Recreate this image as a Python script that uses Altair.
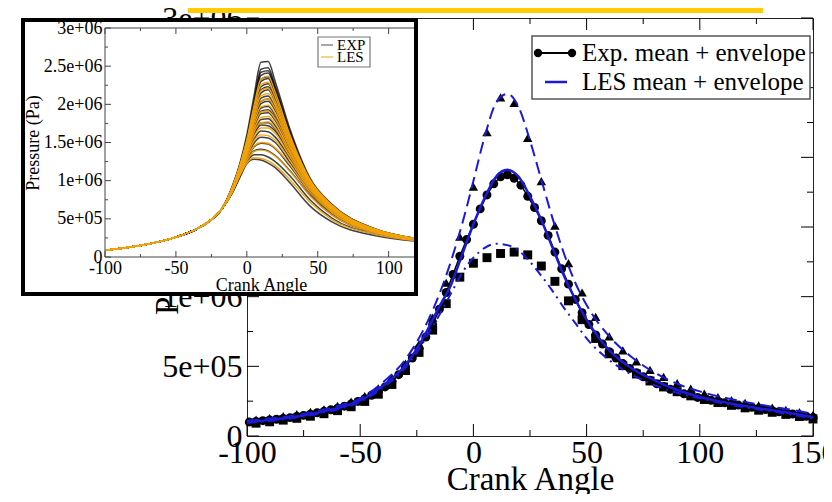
import json
import altair as alt
import pandas as pd

# ---------------- data (pressure in MPa for main, bar for inset) ----------------
exp_mean_angle = list(range(-99, 151, 3))
exp_mean_mpa = [0.100, 0.105, 0.110, 0.115, 0.120, 0.126, 0.132, 0.140, 0.148, 0.157,
                0.167, 0.177, 0.188, 0.200, 0.214, 0.230, 0.248, 0.268, 0.292, 0.320,
                0.352, 0.390, 0.440, 0.500, 0.560, 0.630, 0.710, 0.800, 0.910, 1.030,
                1.160, 1.290, 1.410,
                1.520, 1.630, 1.730, 1.810, 1.860, 1.875, 1.850, 1.800, 1.720, 1.640,
                1.545, 1.440, 1.320, 1.200, 1.090, 0.980, 0.885, 0.800, 0.725, 0.660,
                0.605, 0.560, 0.520, 0.485, 0.455, 0.425, 0.400, 0.375, 0.355, 0.335,
                0.318, 0.303, 0.290, 0.277, 0.266, 0.256, 0.247, 0.238, 0.230, 0.222,
                0.214, 0.206, 0.198, 0.190, 0.182, 0.174, 0.166, 0.158, 0.150, 0.142,
                0.133]

env_angle = list(range(-96, 151, 6))
exp_max_mpa = [0.118, 0.128, 0.142, 0.157, 0.173, 0.192, 0.216, 0.246, 0.287, 0.342,
               0.418, 0.520, 0.660, 0.850, 1.100, 1.430, 1.790, 2.180, 2.430, 2.390,
               2.140, 1.830, 1.510, 1.240, 1.030, 0.855, 0.715, 0.615, 0.535, 0.475,
               0.425, 0.380, 0.340, 0.305, 0.280, 0.258, 0.238, 0.220, 0.203, 0.187,
               0.172, 0.152]
exp_min_mpa = [0.092, 0.102, 0.114, 0.127, 0.142, 0.160, 0.182, 0.210, 0.248, 0.300,
               0.370, 0.470, 0.600, 0.760, 0.950, 1.140, 1.240, 1.280, 1.310, 1.320,
               1.300, 1.220, 1.110, 0.970, 0.835, 0.700, 0.590, 0.505, 0.445, 0.395,
               0.352, 0.318, 0.288, 0.262, 0.240, 0.220, 0.202, 0.185, 0.170, 0.155,
               0.140, 0.122]

les_angle = [-100, -90, -80, -70, -60, -50, -40, -30, -25, -20, -15, -10, -5, 0, 5, 10,
             15, 20, 25, 30, 35, 40, 45, 50, 60, 70, 80, 90, 100, 110, 120, 130, 140, 150]
les_mean_mpa = [0.100, 0.115, 0.135, 0.163, 0.200, 0.255, 0.360, 0.510, 0.625, 0.770,
                0.930, 1.080, 1.300, 1.520, 1.710, 1.860, 1.910, 1.860, 1.720, 1.550,
                1.350, 1.150, 0.980, 0.835, 0.615, 0.485, 0.400, 0.330, 0.280, 0.245,
                0.215, 0.190, 0.165, 0.135]
les_max_mpa = [0.110, 0.125, 0.145, 0.175, 0.215, 0.270, 0.385, 0.550, 0.675, 0.830,
               1.020, 1.250, 1.520, 1.830, 2.150, 2.390, 2.455, 2.360, 2.120, 1.840,
               1.560, 1.310, 1.100, 0.940, 0.715, 0.565, 0.455, 0.375, 0.320, 0.278,
               0.245, 0.215, 0.190, 0.158]
les_min_mpa = [0.095, 0.108, 0.128, 0.155, 0.190, 0.245, 0.345, 0.490, 0.600, 0.730,
               0.870, 1.020, 1.170, 1.280, 1.350, 1.380, 1.370, 1.330, 1.250, 1.150,
               1.040, 0.920, 0.810, 0.700, 0.545, 0.440, 0.365, 0.310, 0.270, 0.235,
               0.205, 0.180, 0.155, 0.125]

# inset: individual cycles (bar)
inset_prefix_angle = [-100, -75, -50, -35, -25, -18]
inset_prefix_bar = [0.9, 1.5, 2.6, 3.7, 4.9, 6.2]
inset_angle = [-10, -5, 0, 5, 10, 15, 20, 30, 45, 60, 90, 120]
inset_exp_bar = [
    [9.4, 12.2, 16.0, 21.0, 25.5, 25.6, 23.0, 17.0, 10.2, 6.9, 3.7, 2.40],
    [9.3, 12.0, 15.6, 20.3, 24.6, 24.8, 22.4, 16.6, 10.0, 6.8, 3.7, 2.40],
    [9.25, 11.95, 15.45, 20.0, 24.2, 24.4, 22.1, 16.5, 9.95, 6.75, 3.65, 2.40],
    [9.2, 11.9, 15.3, 19.8, 23.8, 24.1, 21.9, 16.3, 9.9, 6.7, 3.6, 2.40],
    [9.15, 11.8, 15.1, 19.5, 23.3, 23.6, 21.6, 16.1, 9.8, 6.6, 3.6, 2.35],
    [9.1, 11.8, 15.0, 19.3, 23.0, 23.4, 21.4, 16.0, 9.8, 6.6, 3.6, 2.35],
    [9.1, 11.7, 14.8, 18.9, 22.3, 22.7, 20.9, 15.7, 9.7, 6.6, 3.6, 2.35],
    [9.05, 11.65, 14.7, 18.6, 21.9, 22.3, 20.6, 15.5, 9.65, 6.5, 3.55, 2.35],
    [9.0, 11.6, 14.6, 18.4, 21.5, 21.9, 20.3, 15.4, 9.6, 6.5, 3.5, 2.35],
    [9.0, 11.5, 14.4, 18.0, 20.8, 21.1, 19.7, 15.1, 9.5, 6.4, 3.5, 2.30],
    [8.95, 11.45, 14.3, 17.8, 20.4, 20.7, 19.4, 14.9, 9.45, 6.4, 3.5, 2.30],
    [8.9, 11.4, 14.2, 17.6, 20.1, 20.4, 19.2, 14.8, 9.4, 6.4, 3.5, 2.30],
    [8.9, 11.3, 14.0, 17.2, 19.5, 19.7, 18.6, 14.5, 9.3, 6.3, 3.5, 2.30],
    [8.85, 11.25, 13.9, 17.0, 19.1, 19.3, 18.2, 14.3, 9.25, 6.25, 3.45, 2.30],
    [8.8, 11.2, 13.8, 16.8, 18.8, 18.9, 17.9, 14.2, 9.2, 6.2, 3.4, 2.30],
    [8.8, 11.1, 13.6, 16.4, 18.0, 18.1, 17.2, 13.8, 9.0, 6.1, 3.4, 2.30],
    [8.75, 11.05, 13.5, 16.1, 17.6, 17.6, 16.8, 13.6, 8.95, 6.05, 3.4, 2.25],
    [8.7, 11.0, 13.4, 15.9, 17.3, 17.2, 16.5, 13.4, 8.9, 6.0, 3.4, 2.25],
    [8.7, 10.9, 13.2, 15.4, 16.5, 16.4, 15.7, 13.0, 8.7, 5.9, 3.3, 2.25],
    [8.6, 10.8, 13.0, 14.9, 15.7, 15.6, 15.0, 12.5, 8.5, 5.8, 3.3, 2.25],
    [8.6, 10.7, 12.8, 14.4, 14.9, 14.8, 14.2, 12.0, 8.3, 5.7, 3.3, 2.20],
    [8.6, 10.6, 12.6, 13.9, 14.1, 13.9, 13.3, 11.4, 8.0, 5.5, 3.2, 2.20],
    [8.5, 10.5, 12.4, 13.4, 13.4, 13.1, 12.5, 10.7, 7.4, 5.1, 3.0, 2.15],
    [8.5, 10.4, 12.2, 12.8, 12.7, 12.3, 11.7, 9.8, 6.6, 4.6, 2.8, 2.05],
]
inset_les_bar = [
    [9.3, 12.0, 15.4, 19.8, 23.3, 23.7, 21.6, 16.2, 10.0, 6.8, 3.7, 2.40],
    [9.2, 11.9, 15.1, 19.3, 22.6, 22.9, 21.0, 15.9, 9.9, 6.7, 3.6, 2.40],
    [9.1, 11.8, 14.9, 18.8, 21.8, 22.1, 20.4, 15.6, 9.8, 6.6, 3.6, 2.35],
    [9.1, 11.7, 14.7, 18.4, 21.1, 21.4, 19.9, 15.3, 9.7, 6.6, 3.6, 2.35],
    [9.0, 11.6, 14.5, 18.0, 20.4, 20.7, 19.4, 15.0, 9.6, 6.5, 3.5, 2.35],
    [9.0, 11.5, 14.3, 17.6, 19.7, 19.9, 18.8, 14.7, 9.5, 6.4, 3.5, 2.30],
    [8.9, 11.4, 14.1, 17.1, 19.0, 19.1, 18.1, 14.4, 9.4, 6.4, 3.5, 2.30],
    [8.9, 11.3, 13.9, 16.7, 18.3, 18.4, 17.5, 14.0, 9.2, 6.3, 3.5, 2.30],
    [8.8, 11.2, 13.7, 16.3, 17.6, 17.7, 16.9, 13.7, 9.1, 6.2, 3.4, 2.30],
    [8.8, 11.1, 13.5, 15.8, 16.9, 16.9, 16.2, 13.3, 8.9, 6.1, 3.4, 2.25],
    [8.7, 11.0, 13.2, 15.2, 16.0, 15.9, 15.3, 12.8, 8.7, 5.9, 3.3, 2.25],
    [8.7, 10.9, 12.9, 14.5, 15.0, 14.9, 14.3, 12.2, 8.4, 5.8, 3.3, 2.20],
    [8.6, 10.8, 12.6, 13.8, 14.0, 13.8, 13.2, 11.3, 7.9, 5.5, 3.2, 2.20],
    [8.6, 10.6, 12.3, 13.0, 12.9, 12.6, 12.0, 10.2, 7.1, 4.9, 3.0, 2.10],
]

x_ticks = [-100, -50, 0, 50, 100, 150]
x_tick_labels = ["-100", "-50", "0", "50", "100", "150"]
x_minor = [-75, -25, 25, 75, 125]
y_ticks = [0, 500000, 1000000, 1500000, 2000000, 2500000, 3000000]
y_tick_labels = ["0", "5e+05", "1e+06", "1.5e+06", "2e+06", "2.5e+06", "3e+06"]
y_minor = [250000, 750000, 1250000, 1750000, 2250000, 2750000]
inset_x_ticks = [-100, -50, 0, 50, 100]
inset_x_tick_labels = ["-100", "-50", "0", "50", "100"]
inset_x_minor = [-75, -25, 25, 75]
legend_labels = ["Exp. mean + envelope", "LES mean + envelope"]
inset_legend_labels = ["EXP", "LES"]

# ---------------- layout ----------------
W, H = 566, 418
SERIF = "Liberation Serif"
BLUE = "#1a1ad8"
ORANGE = "#f2a20c"

mx = alt.Scale(domain=[-100, 150], nice=False, zero=False)
my = alt.Scale(domain=[0, 3000000], nice=False, zero=False)
ix = alt.Scale(domain=[-100, 120], range=[-142, 170], nice=False, zero=False)
iy = alt.Scale(domain=[0, 3000000], range=[239, 10], nice=False, zero=False)


def lab_expr(ticks, labels):
    return f"{json.dumps(labels)}[indexof({json.dumps(ticks)}, datum.value)]"


x_axis = alt.Axis(values=x_ticks, labelExpr=lab_expr(x_ticks, x_tick_labels), title="Crank Angle",
                  orient="bottom", ticks=False, tickSize=0, domain=False, grid=False,
                  labelFont=SERIF, labelFontSize=32, labelColor="black", labelPadding=1,
                  labelFlush=False, labelOverlap=False, titleFont=SERIF, titleFontSize=33,
                  titleFontWeight="normal", titleColor="black", titleBaseline="alphabetic",
                  titleY=53)
y_axis = alt.Axis(values=y_ticks, labelExpr=lab_expr(y_ticks, y_tick_labels), title="Pressure (Pa)",
                  orient="left", ticks=False, tickSize=0, domain=False, grid=False,
                  labelFont=SERIF, labelFontSize=32, labelColor="black", labelPadding=5,
                  labelFlush=False, labelOverlap=False, titleFont=SERIF, titleFontSize=33,
                  titleFontWeight="normal", titleColor="black", titleX=-80, titleY=H / 2,
                  titleBaseline="middle")
ix_axis = alt.Axis(values=inset_x_ticks, labelExpr=lab_expr(inset_x_ticks, inset_x_tick_labels),
                   title="Crank Angle", orient="bottom", offset=-179, ticks=False, tickSize=0,
                   domain=False, grid=False, labelFont=SERIF, labelFontSize=18, labelColor="black",
                   labelPadding=2, labelFlush=False, labelOverlap=False, titleFont=SERIF,
                   titleFontSize=18, titleFontWeight="normal", titleColor="black",
                   titleBaseline="alphabetic", titleY=33, zindex=1)
iy_axis = alt.Axis(values=y_ticks, labelExpr=lab_expr(y_ticks, y_tick_labels), title="Pressure (Pa)",
                   orient="left", offset=142, ticks=False, tickSize=0, domain=False, grid=False,
                   labelFont=SERIF, labelFontSize=18, labelColor="black", labelPadding=3,
                   labelFlush=False, labelOverlap=False, titleFont=SERIF, titleFontSize=18,
                   titleFontWeight="normal", titleColor="black", titleX=-72, titleY=124.5,
                   titleBaseline="middle", zindex=1)

one = pd.DataFrame({"k": [0]})

# ---------------- main panel ----------------
df_mean = pd.DataFrame({"angle": exp_mean_angle, "p": [v * 1e6 for v in exp_mean_mpa]})
df_env = pd.DataFrame({"angle": env_angle,
                       "pmax": [v * 1e6 for v in exp_max_mpa],
                       "pmin": [v * 1e6 for v in exp_min_mpa]})
df_les = pd.DataFrame({"angle": les_angle,
                       "mean": [v * 1e6 for v in les_mean_mpa],
                       "hi": [v * 1e6 for v in les_max_mpa],
                       "lo": [v * 1e6 for v in les_min_mpa]})

MX = alt.X("angle:Q", scale=mx, axis=None)

mean_line = alt.Chart(df_mean).mark_line(color="black", strokeWidth=1.5).encode(
    x=alt.X("angle:Q", scale=mx, axis=x_axis), y=alt.Y("p:Q", scale=my, axis=y_axis))
mean_pts = alt.Chart(df_mean).mark_point(shape="circle", filled=True, color="black", size=80,
                                         opacity=1).encode(
    x=MX, y=alt.Y("p:Q", scale=my, axis=None))
max_pts = alt.Chart(df_env).mark_point(shape="triangle-up", filled=True, color="black", size=90,
                                       opacity=1).encode(
    x=MX, y=alt.Y("pmax:Q", scale=my, axis=None))
min_pts = alt.Chart(df_env).mark_point(shape="square", filled=True, color="black", size=80,
                                       opacity=1).encode(
    x=MX, y=alt.Y("pmin:Q", scale=my, axis=None))
les_mean = alt.Chart(df_les).mark_line(color=BLUE, strokeWidth=2.5, interpolate="monotone").encode(
    x=MX, y=alt.Y("mean:Q", scale=my, axis=None))
les_hi = alt.Chart(df_les).mark_line(color=BLUE, strokeWidth=2, strokeDash=[12, 6],
                                     interpolate="monotone").encode(
    x=MX, y=alt.Y("hi:Q", scale=my, axis=None))
les_lo = alt.Chart(df_les).mark_line(color=BLUE, strokeWidth=2, strokeDash=[9, 5, 2, 5],
                                     interpolate="monotone").encode(
    x=MX, y=alt.Y("lo:Q", scale=my, axis=None))


def xticks(vals, scale, y0, y1, color="black"):
    return alt.Chart(pd.DataFrame({"v": vals})).mark_rule(color=color, strokeWidth=1).encode(
        x=alt.X("v:Q", scale=scale, axis=None), y=alt.value(y0), y2=alt.value(y1))


def yticks(vals, scale, x0, x1, color="black"):
    return alt.Chart(pd.DataFrame({"v": vals})).mark_rule(color=color, strokeWidth=1).encode(
        y=alt.Y("v:Q", scale=scale, axis=None), x=alt.value(x0), x2=alt.value(x1))


main_ticks = [
    xticks(x_ticks, mx, H, H - 12), xticks(x_minor, mx, H, H - 6),
    xticks(x_ticks, mx, 0, 12), xticks(x_minor, mx, 0, 6),
    yticks(y_ticks, my, 0, 12), yticks(y_minor, my, 0, 6),
    yticks(y_ticks, my, W, W - 12), yticks(y_minor, my, W, W - 6),
]

leg_box = alt.Chart(one).mark_rect(color="white", stroke="#555", strokeWidth=1.5).encode(
    x=alt.value(285), x2=alt.value(563), y=alt.value(18), y2=alt.value(81))
leg_l1 = alt.Chart(one).mark_rule(color="black", strokeWidth=2).encode(
    x=alt.value(291), x2=alt.value(325), y=alt.value(35))
leg_c1 = alt.Chart(one).mark_point(shape="circle", filled=True, color="black", size=70, opacity=1).encode(
    x=alt.value(291), y=alt.value(35))
leg_c2 = alt.Chart(one).mark_point(shape="circle", filled=True, color="black", size=70, opacity=1).encode(
    x=alt.value(325), y=alt.value(35))
leg_l2 = alt.Chart(one).mark_rule(color=BLUE, strokeWidth=2.5).encode(
    x=alt.value(298), x2=alt.value(320), y=alt.value(64))
leg_t1 = alt.Chart(pd.DataFrame({"t": [legend_labels[0]]})).mark_text(
    align="left", baseline="middle", font=SERIF, fontSize=25, color="black").encode(
    x=alt.value(335), y=alt.value(35), text="t:N")
leg_t2 = alt.Chart(pd.DataFrame({"t": [legend_labels[1]]})).mark_text(
    align="left", baseline="middle", font=SERIF, fontSize=25, color="black").encode(
    x=alt.value(335), y=alt.value(64), text="t:N")

yellow = alt.Chart(one).mark_rect(color="#ffcc00").encode(
    x=alt.value(-59), x2=alt.value(516), y=alt.value(-10), y2=alt.value(-5))

main_layers = [mean_line, mean_pts, max_pts, min_pts, les_lo, les_hi, les_mean, *main_ticks,
               leg_box, leg_l1, leg_c1, leg_c2, leg_l2, leg_t1, leg_t2, yellow]

# ---------------- inset ----------------
rows = []
for group, curves in (("EXP", inset_exp_bar), ("LES", inset_les_bar)):
    for i, c in enumerate(curves):
        for a, v in zip(inset_prefix_angle + inset_angle, inset_prefix_bar + c):
            rows.append({"grp": group, "cyc": f"{group}{i}", "angle": a, "p": v * 1e5})
df_in = pd.DataFrame(rows)

IX = alt.X("angle:Q", scale=ix, axis=None)

in_bg = alt.Chart(one).mark_rect(color="white").encode(
    x=alt.value(-226), x2=alt.value(171), y=alt.value(0), y2=alt.value(278))
in_exp = alt.Chart(df_in[df_in.grp == "EXP"]).mark_line(
    color="black", strokeWidth=1.5, opacity=0.75, interpolate="monotone").encode(
    x=alt.X("angle:Q", scale=ix, axis=ix_axis), y=alt.Y("p:Q", scale=iy, axis=iy_axis),
    detail="cyc:N")
in_les = alt.Chart(df_in[df_in.grp == "LES"]).mark_line(
    color=ORANGE, strokeWidth=1.4, opacity=0.95, interpolate="monotone").encode(
    x=IX, y=alt.Y("p:Q", scale=iy, axis=None), detail="cyc:N")
in_frame = alt.Chart(one).mark_rect(fillOpacity=0, stroke="#444", strokeWidth=1).encode(
    x=alt.value(-142), x2=alt.value(170), y=alt.value(10), y2=alt.value(239))
in_ticks = [
    xticks(inset_x_ticks, ix, 239, 233, "#444"), xticks(inset_x_minor, ix, 239, 236, "#444"),
    xticks(inset_x_ticks, ix, 10, 16, "#444"), xticks(inset_x_minor, ix, 10, 13, "#444"),
    yticks(y_ticks, iy, -142, -136, "#444"), yticks(y_minor, iy, -142, -139, "#444"),
]
in_leg_box = alt.Chart(one).mark_rect(color="white", stroke="#777", strokeWidth=1.2).encode(
    x=alt.value(71), x2=alt.value(123), y=alt.value(19), y2=alt.value(49))
in_leg_l1 = alt.Chart(one).mark_rule(color="#888", strokeWidth=1.5).encode(
    x=alt.value(74), x2=alt.value(86), y=alt.value(27))
in_leg_l2 = alt.Chart(one).mark_rule(color="#f3c45a", strokeWidth=1.5).encode(
    x=alt.value(74), x2=alt.value(86), y=alt.value(39))
in_leg_t1 = alt.Chart(pd.DataFrame({"t": [inset_legend_labels[0]]})).mark_text(
    align="left", baseline="middle", font=SERIF, fontSize=15, color="black").encode(
    x=alt.value(90), y=alt.value(27), text="t:N")
in_leg_t2 = alt.Chart(pd.DataFrame({"t": [inset_legend_labels[1]]})).mark_text(
    align="left", baseline="middle", font=SERIF, fontSize=15, color="black").encode(
    x=alt.value(90), y=alt.value(39), text="t:N")
in_border = alt.Chart(one).mark_rect(fillOpacity=0, stroke="black", strokeWidth=4).encode(
    x=alt.value(-224), x2=alt.value(169), y=alt.value(2), y2=alt.value(276))

inset_layers = [in_bg, in_exp, in_les, in_frame, *in_ticks, in_leg_box, in_leg_l1, in_leg_l2,
                in_leg_t1, in_leg_t2, in_border]

chart = alt.layer(*main_layers, *inset_layers).resolve_scale(
    x="independent", y="independent").properties(
    width=W, height=H, autosize=alt.AutoSizeParams(type="none"),
    padding={"left": 239, "top": 10, "right": 11, "bottom": 58},
).configure_view(stroke="#222", strokeWidth=1)

chart.save("out.html", embed_options={"renderer": "svg", "actions": False})
